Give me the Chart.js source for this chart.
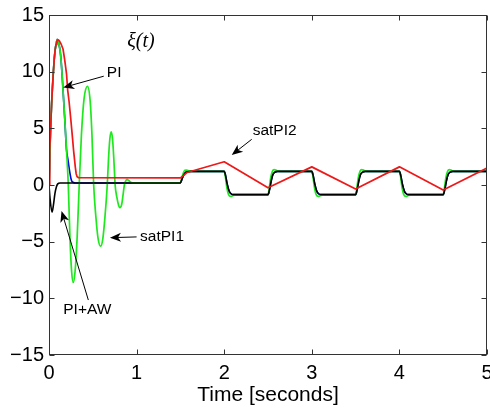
<!DOCTYPE html>
<html><head><meta charset="utf-8">
<script src="https://cdn.jsdelivr.net/npm/chart.js@4/dist/chart.umd.min.js"></script>
<style>html,body{margin:0;padding:0;background:#fff}</style>
</head><body>
<canvas id="c" width="490" height="411"></canvas>
<script>
// ---- data ----
const xTicks = [0, 1, 2, 3, 4, 5];
const yTicks = [-15, -10, -5, 0, 5, 10, 15];
const xLabel = 'Time [seconds]';

// satPI2 (red)
const redT = [0,0.006,0.011,0.02,0.03,0.038,0.05,0.06,0.07,0.08,0.09,0.1,0.11,0.12,0.14,0.16,0.18,0.2,0.213,0.23,0.25,0.27,0.28,0.3,0.31,0.32,0.335,1.5,1.53,1.575,2.0,2.5,3.0,3.5,4.0,4.5,5.0];
const redV = [0,1.5,3.1,5.3,7.2,8.4,10.0,11.1,11.9,12.4,12.7,12.8,12.78,12.7,12.4,12.0,11.0,9.8,8.4,7.3,5.7,4.0,3.1,1.6,1.0,0.75,0.65,0.62,0.8,1.1,2.05,-0.25,1.6,-0.35,1.6,-0.45,1.5];

// PI+AW (black)
const blackT = [0,0.012,0.035,0.05,0.068,0.085,0.1,0.126,
  1.5,1.515,1.535,1.555,1.58,1.62,
  2.0,2.015,2.035,2.055,2.075,2.1,
  2.5,2.515,2.535,2.555,2.58,2.61,
  3.0,3.015,3.035,3.055,3.075,3.1,
  3.5,3.515,3.535,3.555,3.58,3.61,
  4.0,4.015,4.035,4.055,4.075,4.1,
  4.5,4.515,4.535,4.555,4.58,4.61,
  5.0];
const blackV = [0,-1.2,-2.4,-1.8,-0.73,-0.15,0.1,0.18,
  0.18,0.45,0.85,1.08,1.17,1.2,
  1.2,0.85,0.05,-0.5,-0.75,-0.85,
  -0.85,-0.5,0.3,0.9,1.13,1.2,
  1.2,0.85,0.05,-0.5,-0.75,-0.85,
  -0.85,-0.5,0.3,0.9,1.13,1.2,
  1.2,0.85,0.05,-0.5,-0.75,-0.85,
  -0.85,-0.5,0.3,0.9,1.13,1.2,
  1.2];

// satPI1 (green)
const greenT = [0,0.006,0.011,0.02,0.03,0.038,0.05,0.06,0.07,0.08,0.095,0.11,0.126,0.14,0.16,0.18,0.2,0.22,0.24,0.258,0.277,0.298,0.322,0.345,0.37,0.4,0.44,0.47,0.49,0.51,0.535,0.56,0.59,0.615,0.64,0.665,0.68,0.695,0.71,0.725,0.74,0.755,0.775,0.795,0.81,0.83,0.845,0.86,0.875,0.89,0.91,0.94,0.97,
  1.5,1.512,1.53,1.55,1.57,1.6,1.64,
  2.0,2.012,2.03,2.05,2.075,2.1,2.14,
  2.5,2.512,2.53,2.55,2.57,2.6,2.64,
  3.0,3.012,3.03,3.05,3.075,3.1,3.14,
  3.5,3.512,3.53,3.55,3.57,3.6,3.64,
  4.0,4.012,4.03,4.05,4.075,4.1,4.14,
  4.5,4.512,4.53,4.55,4.57,4.6,4.64,
  5.0];
const greenV = [0,1.5,3.1,5.3,7.2,8.4,10.0,11.1,11.9,12.4,12.85,12.5,11.9,10.8,8.4,5.8,3.1,0,-4.8,-7.6,-8.6,-7.6,-4.5,0,4.4,7.6,8.7,7.4,4.5,0,-2.8,-4.7,-5.4,-4.7,-2.7,0,2.4,4.1,4.7,4.1,2.3,0,-1.1,-1.8,-2.0,-1.7,-0.9,0,0.35,0.5,0.4,0.22,0.18,
  0.18,0.5,1.0,1.3,1.32,1.25,1.2,
  1.2,0.8,-0.2,-0.85,-1.0,-0.93,-0.86,
  -0.86,-0.4,0.6,1.2,1.35,1.28,1.2,
  1.2,0.8,-0.2,-0.85,-1.0,-0.93,-0.86,
  -0.86,-0.4,0.6,1.2,1.35,1.28,1.2,
  1.2,0.8,-0.2,-0.85,-1.0,-0.93,-0.86,
  -0.86,-0.4,0.6,1.2,1.35,1.28,1.2,
  1.2];

// PI (blue): initial part, afterwards it coincides with PI+AW
const blueHeadT = [0,0.006,0.011,0.02,0.03,0.038,0.05,0.06,0.07,0.08,0.095,0.11,0.126,0.14,0.16,0.18,0.2,0.215,0.228,0.24,0.25,0.26,0.28,0.3];
const blueHeadV = [0,1.5,3.1,5.3,7.2,8.4,10.0,11.1,11.9,12.4,12.85,12.5,11.9,10.8,8.4,5.8,3.1,2.3,1.6,1.0,0.6,0.35,0.22,0.18];

// ---- annotations (data coordinates) ----
const notes = [
  {text: 'PI', tx: 0.66, ty: 9.9, from: [0.625, 9.6], to: [0.163, 8.6]},
  {text: 'satPI1', tx: 1.04, ty: -4.6, from: [1.0, -4.58], to: [0.696, -4.65]},
  {text: 'satPI2', tx: 2.325, ty: 4.75, from: [2.314, 4.03], to: [2.086, 2.65]},
  {text: 'PI+AW', tx: 0.163, ty: -11.03, from: [0.449, -10.15], to: [0.143, -2.3]}
];
const xiLabel = {text: '\u03BE(t)', tx: 1.05, ty: 12.6};

// ---- build ----
const zip = (t, v) => t.map((x, i) => ({x: x, y: v[i]}));
const bluePts = zip(blueHeadT, blueHeadV).concat(zip(blackT, blackV).filter(p => p.x > 0.3));

const fmt = v => (v < 0 ? '\u2212' + Math.abs(v) : String(v));

const decor = {
  id: 'decor',
  afterDatasetsDraw(chart) {
    const {ctx, chartArea: a, scales: {x, y}} = chart;
    ctx.save();
    ctx.strokeStyle = '#333';
    ctx.lineWidth = 1;
    const L = Math.round(a.left) + 0.5, R = Math.round(a.right) - 0.5;
    const T = Math.round(a.top) + 0.5, B = Math.round(a.bottom) - 0.5;
    ctx.strokeRect(L, T, R - L, B - T);
    const tl = 5;
    ctx.beginPath();
    xTicks.forEach(v => {
      const p = Math.round(x.getPixelForValue(v)) + 0.5;
      ctx.moveTo(p, B); ctx.lineTo(p, B - tl);
      ctx.moveTo(p, T); ctx.lineTo(p, T + tl);
    });
    yTicks.forEach(v => {
      const p = Math.round(y.getPixelForValue(v)) + 0.5;
      ctx.moveTo(L, p); ctx.lineTo(L + tl, p);
      ctx.moveTo(R, p); ctx.lineTo(R - tl, p);
    });
    ctx.stroke();

    // annotations
    ctx.fillStyle = '#000';
    ctx.strokeStyle = '#000';
    ctx.font = '15.5px "Liberation Sans", Arial, sans-serif';
    ctx.textBaseline = 'middle';
    ctx.textAlign = 'left';
    notes.forEach(n => {
      ctx.fillText(n.text, x.getPixelForValue(n.tx), y.getPixelForValue(n.ty));
      const x0 = x.getPixelForValue(n.from[0]), y0 = y.getPixelForValue(n.from[1]);
      const x1 = x.getPixelForValue(n.to[0]), y1 = y.getPixelForValue(n.to[1]);
      const dx = x1 - x0, dy = y1 - y0, len = Math.hypot(dx, dy);
      const ux = dx / len, uy = dy / len, nx = -uy, ny = ux;
      const HL = 11, HW = 4.5, notch = 3;
      ctx.lineWidth = 1;
      ctx.beginPath();
      ctx.moveTo(x0, y0);
      ctx.lineTo(x1 - (HL - notch) * ux, y1 - (HL - notch) * uy);
      ctx.stroke();
      ctx.beginPath();
      ctx.moveTo(x1, y1);
      ctx.lineTo(x1 - HL * ux + HW * nx, y1 - HL * uy + HW * ny);
      ctx.lineTo(x1 - (HL - notch) * ux, y1 - (HL - notch) * uy);
      ctx.lineTo(x1 - HL * ux - HW * nx, y1 - HL * uy - HW * ny);
      ctx.closePath();
      ctx.fill();
    });
    ctx.font = 'italic 20px "Liberation Serif", "DejaVu Serif", serif';
    ctx.textAlign = 'center';
    ctx.fillText(xiLabel.text, x.getPixelForValue(xiLabel.tx), y.getPixelForValue(xiLabel.ty));
    ctx.restore();
  }
};

const tickFont = {family: '"Liberation Sans", Arial, sans-serif', size: 20};
const titleFont = {family: '"Liberation Sans", Arial, sans-serif', size: 21};

new Chart(document.getElementById('c'), {
  type: 'line',
  data: {
    datasets: [
      {label: 'satPI2', data: zip(redT, redV), borderColor: 'rgb(238,24,24)', borderWidth: 1.7, tension: 0, order: 0},
      {label: 'PI+AW', data: zip(blackT, blackV), borderColor: '#000', borderWidth: 1.6, cubicInterpolationMode: 'monotone', order: 1},
      {label: 'satPI1', data: zip(greenT, greenV), borderColor: 'rgb(30,232,30)', borderWidth: 1.7, cubicInterpolationMode: 'monotone', order: 2},
      {label: 'PI', data: bluePts, borderColor: 'rgb(0,0,235)', borderWidth: 1.6, cubicInterpolationMode: 'monotone', order: 3}
    ]
  },
  options: {
    responsive: false,
    animation: false,
    devicePixelRatio: 1,
    layout: {padding: {top: 15, right: 3, left: 0, bottom: 0}},
    elements: {point: {radius: 0}, line: {borderCapStyle: 'round', borderJoinStyle: 'round'}},
    plugins: {legend: {display: false}, tooltip: {enabled: false}},
    scales: {
      x: {
        type: 'linear', min: 0, max: 5,
        grid: {display: false, drawTicks: false},
        border: {display: false},
        afterBuildTicks: s => { s.ticks = xTicks.map(v => ({value: v})); },
        afterFit: s => { s.height = 56; s.paddingLeft = 0; s.paddingRight = 0; s.paddingTop = 0; s.paddingBottom = 0; },
        ticks: {font: tickFont, color: '#000', padding: 6, maxRotation: 0, autoSkip: false, callback: v => fmt(v)},
        title: {display: true, text: xLabel, font: titleFont, color: '#000', padding: {top: 0, bottom: 3}}
      },
      y: {
        type: 'linear', min: -15, max: 15,
        grid: {display: false, drawTicks: false},
        border: {display: false},
        afterBuildTicks: s => { s.ticks = yTicks.map(v => ({value: v})); },
        afterFit: s => { s.width = 49; s.paddingLeft = 0; s.paddingRight = 0; s.paddingTop = 0; s.paddingBottom = 0; },
        ticks: {font: tickFont, color: '#000', padding: 5, autoSkip: false, callback: v => fmt(v)}
      }
    }
  },
  plugins: [decor]
});
</script>
</body></html>
